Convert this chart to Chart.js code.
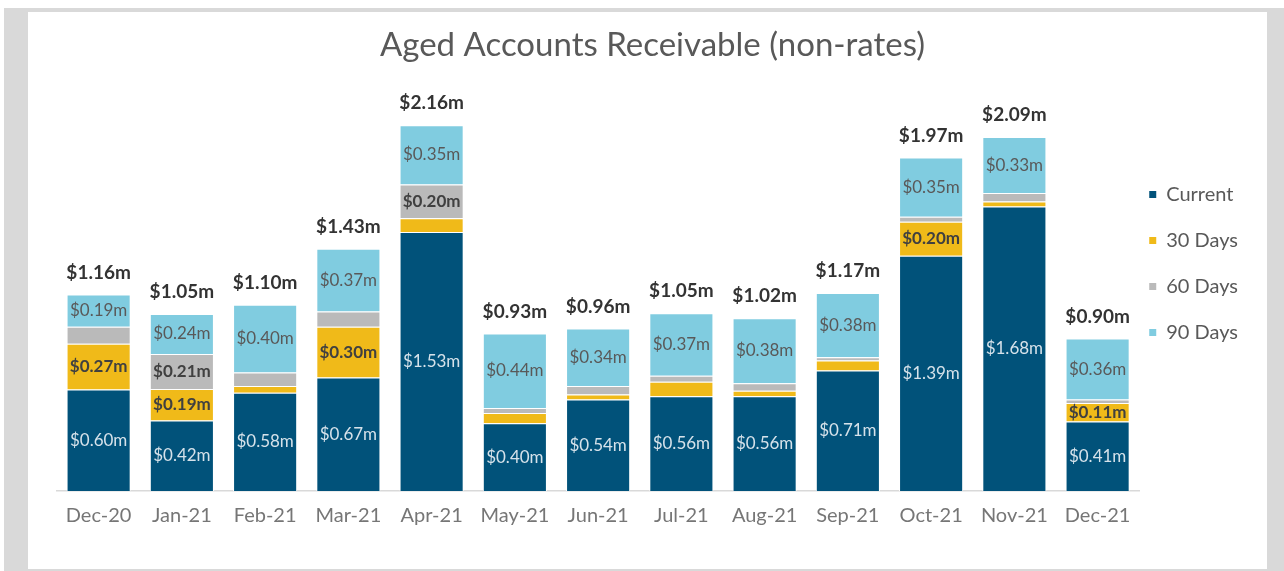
<!DOCTYPE html>
<html>
<head>
<meta charset="utf-8">
<script src="https://cdn.jsdelivr.net/npm/chart.js@4"></script>
<style>
  html, body { margin: 0; padding: 0; background: #fff; }
  #frame { position: absolute; left: 4px; top: 8px; width: 1280px; height: 563px; background: #d9d9d9; }
  #card { position: absolute; left: 28px; top: 12px; width: 1239px; height: 557px; background: #fff; }
</style>
</head>
<body>
<div id="frame"></div>
<div id="card"><canvas id="arChart"></canvas></div>
<script>
const categories = ["Dec-20", "Jan-21", "Feb-21", "Mar-21", "Apr-21", "May-21", "Jun-21",
                    "Jul-21", "Aug-21", "Sep-21", "Oct-21", "Nov-21", "Dec-21"];

// values in $m
const currentVals = [0.60, 0.416, 0.58, 0.67, 1.53, 0.40, 0.54, 0.56, 0.56, 0.712, 1.39, 1.68, 0.41];
const days30Vals  = [0.27, 0.186, 0.04, 0.30, 0.08, 0.06, 0.03, 0.085, 0.032, 0.058, 0.20, 0.03, 0.11];
const days60Vals  = [0.10, 0.207, 0.08, 0.09, 0.20, 0.03, 0.05, 0.035, 0.045, 0.02, 0.03, 0.05, 0.02];
const days90Vals  = [0.19, 0.237, 0.40, 0.37, 0.35, 0.44, 0.34, 0.37, 0.383, 0.38, 0.35, 0.33, 0.36];

const FONT = "Lato, 'Open Sans', sans-serif";

// segment labels are only shown on the bigger pieces
const labelStyle = [
  { color: "#d6e2ea", weight: "normal" },   // Current
  { color: "#404040", weight: "bold" },     // 30 Days
  { color: "#404040", weight: "bold" },     // 60 Days
  { color: "#595959", weight: "normal" },   // 90 Days
];

const barLabels = {
  id: "barLabels",
  afterDatasetsDraw(chart) {
    const ctx = chart.ctx;
    ctx.save();
    ctx.textAlign = "center";
    ctx.textBaseline = "middle";
    chart.data.datasets.forEach((ds, i) => {
      const meta = chart.getDatasetMeta(i);
      ctx.fillStyle = labelStyle[i].color;
      ctx.font = labelStyle[i].weight + " 17px " + FONT;
      meta.data.forEach((bar, j) => {
        const v = ds.data[j];
        if (v < 0.105) return;
        ctx.fillText("$" + v.toFixed(2) + "m", bar.x, (bar.y + bar.base) / 2);
      });
    });
    // totals above each stack
    const top = chart.getDatasetMeta(chart.data.datasets.length - 1);
    ctx.fillStyle = "#333333";
    ctx.font = "bold 19px " + FONT;
    top.data.forEach((bar, j) => {
      const total = chart.data.datasets.reduce((s, ds) => s + ds.data[j], 0);
      ctx.fillText("$" + total.toFixed(2) + "m", bar.x, bar.y - 22);
    });
    ctx.restore();
  },
};

const makeSet = (label, data, color) => ({
  label: label,
  data: data,
  backgroundColor: color,
  borderColor: "#ffffff",
  borderWidth: 1,
  barPercentage: 0.77,
  categoryPercentage: 1.0,
});

new Chart(document.getElementById("arChart"), {
  type: "bar",
  data: {
    labels: categories,
    datasets: [
      makeSet("Current", currentVals, "#01527a"),
      makeSet("30 Days", days30Vals, "#f0ba19"),
      makeSet("60 Days", days60Vals, "#bababa"),
      makeSet("90 Days", days90Vals, "#80cce0"),
    ],
  },
  options: {
    responsive: true,
    maintainAspectRatio: false,
    animation: false,
    layout: { padding: { left: 29, top: -10, right: 19, bottom: 28 } },
    plugins: {
      title: {
        display: true,
        text: "Aged Accounts Receivable (non-rates)",
        color: "#595959",
        font: { family: FONT, size: 33, weight: "normal" },
        padding: { top: 24, bottom: 19 },
      },
      legend: {
        position: "right",
        labels: {
          color: "#595959",
          font: { family: FONT, size: 20, lineHeight: 36 / 20 },
          boxWidth: 7,
          boxHeight: 7,
          padding: 10,
          generateLabels(chart) {
            const items = Chart.defaults.plugins.legend.labels.generateLabels(chart);
            items.forEach((it) => { it.text = [it.text]; it.lineWidth = 0; });
            return items;
          },
        },
      },
      tooltip: { enabled: false },
    },
    scales: {
      x: {
        stacked: true,
        grid: { display: false, drawTicks: false },
        border: { color: "#d9d9d9", width: 1.5 },
        ticks: { color: "#767676", padding: 13, font: { family: FONT, size: 20 } },
      },
      y: {
        stacked: true,
        display: false,
        min: 0,
        max: 2.4,
      },
    },
  },
  plugins: [barLabels],
});
</script>
</body>
</html>
